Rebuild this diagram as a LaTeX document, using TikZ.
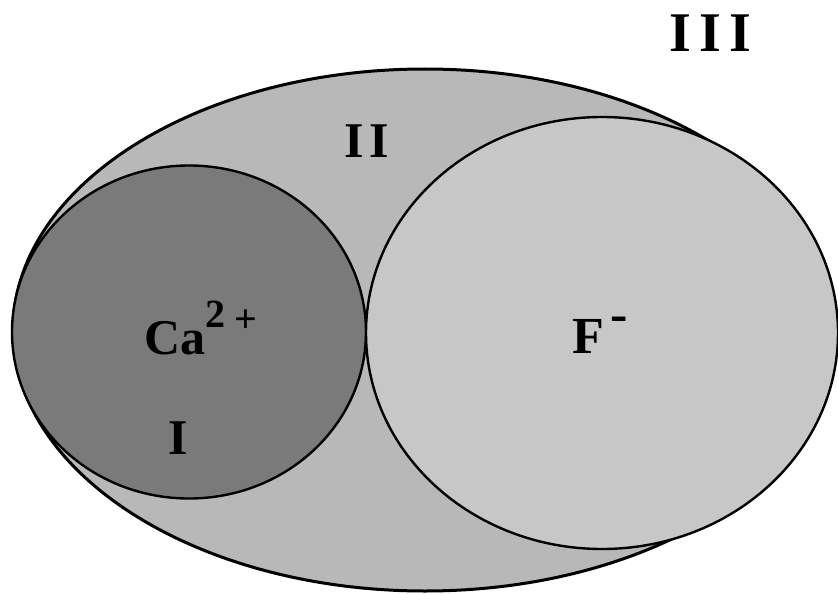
\documentclass[tikz,border=0pt]{standalone}
\usepackage{fontspec}
\setmainfont{Liberation Serif}
\usetikzlibrary{shapes.geometric}
\tikzset{
  region/.style={ellipse, inner sep=0pt, outer sep=0pt, draw=black},
  lbl/.style={font=\fontsize{50}{50}\selectfont\bfseries, inner sep=0pt, text=black}
}
\begin{document}
\begin{tikzpicture}[x=1pt,y=-1pt]
\useasboundingbox (0,0) rectangle (838,594);
\node[region, line width=3pt, fill=black!28, minimum width=824pt, minimum height=522pt] (outer) at (425,330) {};
\node[region, line width=2.4pt, fill=black!52, minimum width=354pt, minimum height=333pt] (ca) at (189,332) {};
\node[region, line width=2.4pt, fill=black!22, minimum width=472pt, minimum height=432pt] (f) at (602,333) {};
\node[lbl, font=\fontsize{56}{56}\selectfont\bfseries] (t3) at (710.5,33.5) {I\kern8pt I\kern8pt I};
\node[lbl] (t2) at (367,141) {I\kern6pt I};
\node[lbl, anchor=base west] (tca) at (144,354) {Ca\raisebox{27pt}{\fontsize{40}{40}\selectfont 2}\kern9pt\raisebox{22pt}{\fontsize{40}{40}\selectfont +}};
\node[lbl] (t1) at (178,438) {I};
\node[lbl, anchor=base west, font=\fontsize{52}{52}\selectfont\bfseries] (tf) at (572,353) {F\kern7pt\raisebox{22pt}{-}};
\end{tikzpicture}
\end{document}
